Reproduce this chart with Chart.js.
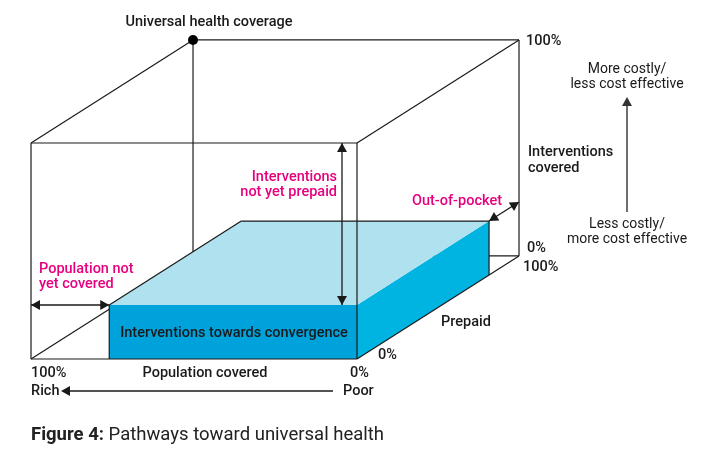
<!DOCTYPE html>
<html>
<head>
<meta charset="utf-8">
<style>
  html, body { margin: 0; padding: 0; background: #fff; }
  #wrap { width: 709px; height: 455px; }
</style>
<script src="https://cdn.jsdelivr.net/npm/chart.js@4.4.1/dist/chart.umd.min.js"></script>
</head>
<body>
<div id="wrap"><canvas id="chart" width="709" height="455"></canvas></div>
<script>
// cube axes, in percent
const populationTicks = ['100%', '0%'];      // Rich -> Poor
const interventionTicks = ['0%', '100%'];
const prepaidTicks = ['0%', '100%'];

// the blue block: where coverage stands today
const populationCovered = 76;     // % of population, counted from the Poor end
const interventionsCovered = 25;  // % of interventions
const prepaidShare = 81.5;        // % of cost that is prepaid

// the "not yet prepaid" arrow sits here on the population axis
const arrowPopulation = 4.6;

// oblique projection of the depth (prepaid) axis
const DEPTH_X = 0.497;
const DEPTH_Y = 0.477;

function project(pop, interv, prep) {
  return { x: (100 - pop) + prep * DEPTH_X, y: interv + prep * DEPTH_Y };
}

const P = populationCovered, I = interventionsCovered, Q = prepaidShare;

const INK = '#1a1a1a';
const PINK = '#e6007e';

function seg(points, opts) {
  return Object.assign({
    data: points.map(p => project(p[0], p[1], p[2])),
    borderColor: INK,
    borderWidth: 1.2,
    pointRadius: 0,
    fill: false,
    order: 10
  }, opts || {});
}

// edges of the cube that sit behind the block
const backEdges = [
  [[100, 0, 0], [100, 100, 0]],
  [[100, 100, 0], [0, 100, 0]],
  [[100, 100, 0], [100, 100, 100]],
  [[0, 100, 0], [0, 100, 100]],
  [[100, 100, 100], [0, 100, 100]],
  [[100, 0, 100], [100, 100, 100]],
  [[0, 0, 100], [0, 100, 100]],
  [[100, 0, 100], [0, 0, 100]],
  [[100, 0, 0], [100, 0, 100]]
];

// edges on the outside, drawn over the block
const frontEdges = [
  [[100, 0, 0], [0, 0, 0]],
  [[0, 0, 0], [0, 100, 0]],
  [[0, 0, 0], [0, 0, 100]]
];

const blockEdges = [
  [[P, 0, 0], [P, I, 0]],
  [[P, I, 0], [P, I, Q]],
  [[P, I, Q], [0, I, Q]],
  [[0, I, Q], [0, 0, Q]]
];

const faces = [
  { pts: [[P, I, 0], [0, I, 0], [0, I, Q], [P, I, Q]], color: '#afe1ef' },
  { pts: [[P, 0, 0], [0, 0, 0], [0, I, 0], [P, I, 0]], color: '#00a2dc' },
  { pts: [[0, 0, 0], [0, 0, Q], [0, I, Q], [0, I, 0]], color: '#00b4e2' }
];

const arrows = [
  [[arrowPopulation, I, 0], [arrowPopulation, 100, 0]],  // interventions not yet prepaid
  [[100, I, 0], [P, I, 0]],                             // population not yet covered
  [[0, I, Q], [0, I, 100]]                              // out-of-pocket
];

const datasets = [];
backEdges.forEach(e => datasets.push(seg(e, { order: 10 })));
faces.forEach(f => datasets.push(seg(f.pts, {
  borderWidth: 0, borderColor: 'rgba(0,0,0,0)', backgroundColor: f.color, fill: 'shape', order: 6
})));
blockEdges.forEach(e => datasets.push(seg(e, { order: 4 })));
frontEdges.forEach(e => datasets.push(seg(e, { order: 4 })));
arrows.forEach(e => datasets.push(seg(e, { order: 2, borderWidth: 1.3, heads: true })));
datasets.push({
  data: [project(100, 100, 100)],
  pointRadius: 5, pointBackgroundColor: '#000', pointBorderWidth: 0,
  showLine: false, order: 1
});

function drawHead(ctx, tip, from, color) {
  const ang = Math.atan2(tip.y - from.y, tip.x - from.x);
  const len = 9, half = 5;
  ctx.save();
  ctx.translate(tip.x, tip.y);
  ctx.rotate(ang);
  ctx.fillStyle = color;
  ctx.beginPath();
  ctx.moveTo(0, 0);
  ctx.lineTo(-len, -half);
  ctx.lineTo(-len, half);
  ctx.closePath();
  ctx.fill();
  ctx.restore();
}

const arrowHeads = {
  id: 'arrowHeads',
  afterDatasetsDraw(chart) {
    const ctx = chart.ctx;
    chart.data.datasets.forEach((ds, i) => {
      if (!ds.heads) return;
      const pts = chart.getDatasetMeta(i).data;
      const a = pts[0], b = pts[pts.length - 1];
      drawHead(ctx, a, b, INK);
      drawHead(ctx, b, a, INK);
    });
  }
};

const BOLD = '500 14.5px Roboto';
const REG = '400 14px Roboto';

const labels = [
  { t: 'Universal health coverage', x: 209, y: 22, a: 'center' },
  { t: interventionTicks[1], x: 526, y: 41 },
  { t: 'Interventions', x: 528, y: 152 },
  { t: 'covered', x: 528, y: 168 },
  { t: interventionTicks[0], x: 527, y: 248 },
  { t: prepaidTicks[1], x: 523, y: 267 },
  { t: 'Prepaid', x: 441, y: 322 },
  { t: prepaidTicks[0], x: 378, y: 355 },
  { t: populationTicks[0], x: 31, y: 373 },
  { t: 'Population covered', x: 205, y: 373, a: 'center' },
  { t: populationTicks[1], x: 350, y: 373 },
  { t: 'Rich', x: 31, y: 391 },
  { t: 'Poor', x: 343, y: 391 },
  { t: 'Interventions towards convergence', x: 234, y: 333, a: 'center' },
  { t: 'Interventions', x: 337, y: 177, a: 'right', c: PINK },
  { t: 'not yet prepaid', x: 337, y: 192, a: 'right', c: PINK },
  { t: 'Population not', x: 39, y: 269, c: PINK },
  { t: 'yet covered', x: 39, y: 284, c: PINK },
  { t: 'Out-of-pocket', x: 502, y: 201, a: 'right', c: PINK },
  { t: 'More costly/', x: 627, y: 69, a: 'center', f: REG },
  { t: 'less cost effective', x: 627, y: 84, a: 'center', f: REG },
  { t: 'Less costly/', x: 627, y: 224, a: 'center', f: REG },
  { t: 'more cost effective', x: 627, y: 239, a: 'center', f: REG }
];

const annotations = {
  id: 'annotations',
  afterDraw(chart) {
    const ctx = chart.ctx;
    ctx.save();
    ctx.textBaseline = 'middle';
    labels.forEach(l => {
      ctx.font = l.f || BOLD;
      ctx.fillStyle = l.c || INK;
      ctx.textAlign = l.a || 'left';
      ctx.fillText(l.t, l.x, l.y);
    });

    // Rich <- Poor
    ctx.strokeStyle = INK;
    ctx.lineWidth = 1.3;
    ctx.beginPath();
    ctx.moveTo(333, 391);
    ctx.lineTo(66, 391);
    ctx.stroke();
    drawHead(ctx, { x: 61, y: 391 }, { x: 333, y: 391 }, INK);

    // cost-effectiveness arrow
    ctx.strokeStyle = '#6e6e6e';
    ctx.lineWidth = 2;
    ctx.beginPath();
    ctx.moveTo(627, 212);
    ctx.lineTo(627, 104);
    ctx.stroke();
    drawHead(ctx, { x: 627, y: 97 }, { x: 627, y: 212 }, '#333');

    // caption
    ctx.textAlign = 'left';
    ctx.fillStyle = '#222';
    ctx.font = '700 18.5px Roboto';
    const lead = 'Figure 4:';
    ctx.fillText(lead, 31, 435);
    const w = ctx.measureText(lead + ' ').width;
    ctx.font = '400 18.5px Roboto';
    ctx.fillText('Pathways toward universal health', 31 + w, 435);
    ctx.restore();
  }
};

new Chart(document.getElementById('chart'), {
  type: 'line',
  data: { datasets },
  options: {
    responsive: false,
    animation: false,
    events: [],
    layout: { padding: 0, autoPadding: false },
    elements: { line: { tension: 0 } },
    plugins: { legend: { display: false }, tooltip: { enabled: false } },
    scales: {
      x: { type: 'linear', display: false, min: -9.51, max: 207.98 },
      y: { type: 'linear', display: false, min: -44.44, max: 166.2 }
    }
  },
  plugins: [arrowHeads, annotations]
});
</script>
</body>
</html>
